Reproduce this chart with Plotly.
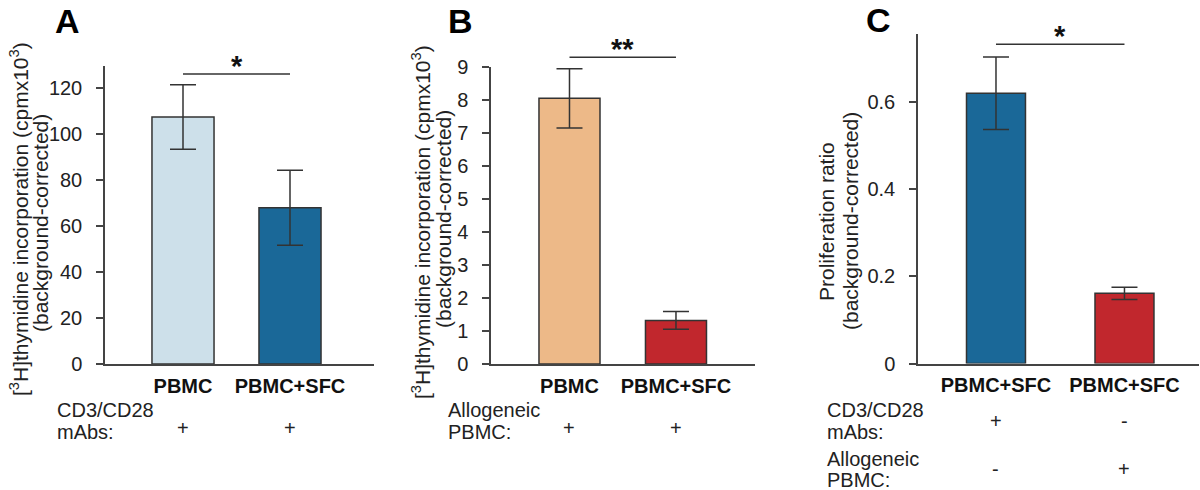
import plotly.graph_objects as go

# ---------------- data ----------------
cats_a = ["PBMC", "PBMC+SFC"]
vals_a = [107.5, 68.0]
err_a = [14.0, 16.3]
cond_a = ["+", "+"]

cats_b = ["PBMC", "PBMC+SFC"]
vals_b = [8.05, 1.32]
err_b = [0.90, 0.27]
cond_b = ["+", "+"]

cats_c = ["PBMC+SFC", "PBMC+SFC"]
vals_c = [0.62, 0.161]
err_c = [0.083, 0.014]
cond_c1 = ["+", "-"]
cond_c2 = ["-", "+"]

sig = ["*", "**", "*"]

col_a = ["#cde0ea", "#1a6898"]
col_b = ["#edb988", "#c1272d"]
col_c = ["#1a6898", "#c1272d"]

W, H = 1200, 490
FONT = "Liberation Sans, Arial, sans-serif"
TXT = "#222222"
LINE = "#444444"

def px(v):
    return v / W

def py(v):
    return 1 - v / H

fig = go.Figure()

panels = [
    dict(cats=cats_a, vals=vals_a, err=err_a, cols=col_a, xa="x", ya="y",
         xdom=[px(105), px(374)], ydom=[py(364), py(66)], xr=[-0.729, 1.785],
         yr=[0, 129.7], tv=[0, 20, 40, 60, 80, 100, 120], width=0.58),
    dict(cats=cats_b, vals=vals_b, err=err_b, cols=col_b, xa="x2", ya="y2",
         xdom=[px(491), px(755)], ydom=[py(364), py(67)], xr=[-0.737, 1.742],
         yr=[0, 9], tv=list(range(0, 10)), width=0.573),
    dict(cats=cats_c, vals=vals_c, err=err_c, cols=col_c, xa="x3", ya="y3",
         xdom=[px(918), px(1199)], ydom=[py(363.5), py(34)], xr=[-0.607, 1.58],
         yr=[0, 0.756], tv=[0, 0.2, 0.4, 0.6], width=0.459),
]

layout = dict(
    width=W, height=H, margin=dict(l=0, r=0, t=0, b=0, autoexpand=False),
    paper_bgcolor="white", plot_bgcolor="white", showlegend=False,
    font=dict(family=FONT, color=TXT),
)

for i, p in enumerate(panels):
    pos = list(range(len(p["cats"])))
    fig.add_trace(go.Bar(
        x=pos, y=p["vals"], width=p["width"],
        marker=dict(color=p["cols"], line=dict(color="#333333", width=1.5)),
        error_y=dict(type="data", array=p["err"], visible=True,
                     color="#333333", thickness=1.5, width=13),
        xaxis=p["xa"], yaxis=p["ya"], hoverinfo="skip",
    ))
    sx = "" if i == 0 else str(i + 1)
    layout["xaxis" + sx] = dict(
        domain=p["xdom"], range=p["xr"], anchor=p["ya"], automargin=False,
        showline=True, linecolor=LINE, linewidth=1.5,
        showgrid=False, zeroline=False, ticks="",
        tickvals=pos, ticktext=p["cats"],
        tickfont=dict(size=20, family=FONT, color="#111111", weight="bold"),
        ticklabelstandoff=3,
    )
    layout["yaxis" + sx] = dict(
        domain=p["ydom"], range=p["yr"], anchor=p["xa"], automargin=False,
        showline=True, linecolor=LINE, linewidth=1.5,
        showgrid=False, zeroline=False,
        ticks="outside", ticklen=7, tickwidth=1.5, tickcolor=LINE,
        tickvals=p["tv"], tickfont=dict(size=20, family=FONT, color=TXT),
        ticklabelstandoff=10,
    )

fig.update_layout(**layout)

# significance lines
sig_y = [74, 57.3, 44.3]
for i, p in enumerate(panels):
    fig.add_shape(type="line", xref=p["xa"], yref="paper",
                  x0=0, x1=1, y0=py(sig_y[i]), y1=py(sig_y[i]),
                  line=dict(color="#333333", width=1.5))
    fig.add_annotation(x=0.5, xref=p["xa"], y=py(sig_y[i] + 10), yref="paper",
                       text=sig[i], showarrow=False, xanchor="center",
                       yanchor="bottom",
                       font=dict(size=29, family=FONT, color="#111111", weight="bold"))

ann = []
# panel letters
for t, x, y in [("A", 67.5, 21), ("B", 460, 21), ("C", 878, 20)]:
    ann.append(dict(text=t, x=px(x), y=py(y), xref="paper", yref="paper",
                    xanchor="center", yanchor="middle", showarrow=False,
                    font=dict(size=34, family=FONT, color="#000000", weight="bold")))

# y-axis titles
ytitle1 = "[<sup>3</sup>H]thymidine incorporation (cpmx10<sup>3</sup>)"
ytitle2 = "(background-corrected)"
for t, x, y in [(ytitle1, 19, 219), (ytitle2, 40, 223),
                (ytitle1, 421, 222), (ytitle2, 443, 219),
                ("Proliferation ratio", 826, 222), (ytitle2, 850, 221)]:
    ann.append(dict(text=t, x=px(x), y=py(y), xref="paper", yref="paper",
                    xanchor="center", yanchor="middle", showarrow=False,
                    textangle=-90, font=dict(size=21, family=FONT, color=TXT)))

# condition row labels
for t, x, y in [("CD3/CD28", 55, 410), ("mAbs:", 55, 432),
                ("Allogeneic", 446, 410), ("PBMC:", 446, 432),
                ("CD3/CD28", 825, 410), ("mAbs:", 825, 432),
                ("Allogeneic", 825, 459), ("PBMC:", 825, 480)]:
    ann.append(dict(text=t, x=px(x), y=py(y), xref="paper", yref="paper",
                    xanchor="left", yanchor="middle", showarrow=False,
                    font=dict(size=20, family=FONT, color=TXT)))

# condition signs
for cond, xa, y in [(cond_a, "x", 428), (cond_b, "x2", 428),
                    (cond_c1, "x3", 421), (cond_c2, "x3", 469)]:
    for j, s in enumerate(cond):
        ann.append(dict(text=s, x=j, xref=xa, y=py(y), yref="paper",
                        xanchor="center", yanchor="middle", showarrow=False,
                        font=dict(size=20, family=FONT, color=TXT)))

for a in ann:
    fig.add_annotation(**a)

fig.write_html("out.html", config={"displayModeBar": False},
               post_script="document.body.style.margin='0';")
